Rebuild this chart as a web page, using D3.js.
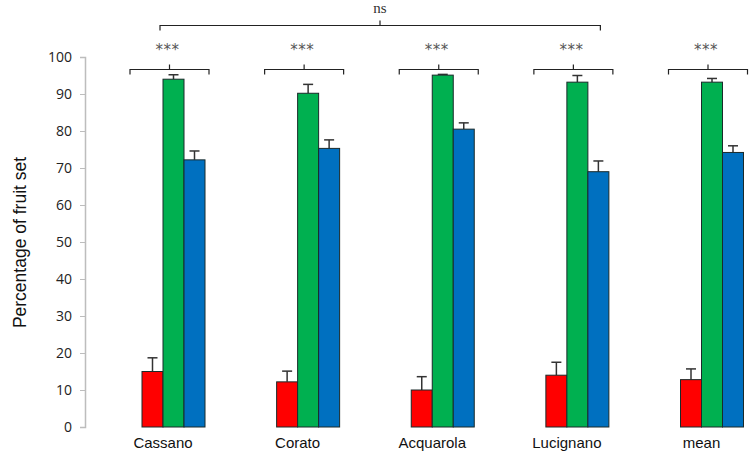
<!DOCTYPE html>
<html>
<head>
<meta charset="utf-8">
<script src="https://cdn.jsdelivr.net/npm/d3@7"></script>
<style>
body { margin: 0; background: #fff; }
</style>
</head>
<body>
<svg></svg>
<script>
var categories = ["Cassano", "Corato", "Acquarola", "Lucignano", "mean"];
var redValues = [15, 12.2, 10, 14, 12.8];
var redErrors = [3.7, 2.9, 3.6, 3.5, 2.9];
var greenValues = [94, 90.2, 95.1, 93.2, 93.2];
var greenErrors = [1.2, 2.4, 0.2, 1.8, 1.0];
var blueValues = [72.2, 75.3, 80.5, 69, 74.2];
var blueErrors = [2.4, 2.3, 1.7, 2.9, 1.8];
var groupStars = ["***", "***", "***", "***", "***"];
var yTicks = [0, 10, 20, 30, 40, 50, 60, 70, 80, 90, 100];

var svgWidth = 750, svgHeight = 451;
var barWidth = 21;

var svg = d3.select("svg")
  .attr("width", svgWidth)
  .attr("height", svgHeight);

var x = d3.scalePoint()
  .domain(categories)
  .range([173.5, 712]);

var y = d3.scaleLinear()
  .domain([0, 100])
  .range([427, 57]);

// y axis
var yAxis = svg.append("g")
  .attr("transform", "translate(85,0)")
  .call(d3.axisLeft(y).tickValues(yTicks).tickSize(5).tickPadding(8));
yAxis.select(".domain").attr("stroke", "#bdbdbd").attr("stroke-width", 1.5);
yAxis.selectAll(".tick line").attr("stroke", "#bdbdbd");
yAxis.selectAll(".tick text")
  .attr("font-family", "'Open Sans', sans-serif")
  .attr("font-size", "14px")
  .attr("fill", "#222");

svg.append("text")
  .attr("transform", "translate(26,242.5) rotate(-90)")
  .attr("text-anchor", "middle")
  .attr("font-family", "'Liberation Sans', Arial, sans-serif")
  .attr("font-size", "17.5px")
  .attr("fill", "#111")
  .text("Percentage of fruit set");

// bars
var series = [
  { values: redValues, errors: redErrors, color: "#ff0000", offset: -1 },
  { values: greenValues, errors: greenErrors, color: "#00b050", offset: 0 },
  { values: blueValues, errors: blueErrors, color: "#0070c0", offset: 1 }
];

series.forEach(function (s) {
  var g = svg.append("g");
  var cx = function (d, i) { return x(categories[i]) + s.offset * barWidth; };

  g.selectAll("line.err")
    .data(s.values)
    .enter()
    .append("line")
    .attr("class", "err")
    .attr("x1", cx)
    .attr("x2", cx)
    .attr("y1", function (d) { return y(d); })
    .attr("y2", function (d, i) { return y(d + s.errors[i]); })
    .attr("stroke", "#333")
    .attr("stroke-width", 1.5);

  g.selectAll("line.cap")
    .data(s.values)
    .enter()
    .append("line")
    .attr("class", "cap")
    .attr("x1", function (d, i) { return cx(d, i) - 5; })
    .attr("x2", function (d, i) { return cx(d, i) + 5; })
    .attr("y1", function (d, i) { return y(d + s.errors[i]); })
    .attr("y2", function (d, i) { return y(d + s.errors[i]); })
    .attr("stroke", "#333")
    .attr("stroke-width", 1.5);

  g.selectAll("rect")
    .data(s.values)
    .enter()
    .append("rect")
    .attr("x", function (d, i) { return cx(d, i) - barWidth / 2; })
    .attr("y", function (d) { return y(d); })
    .attr("width", barWidth)
    .attr("height", function (d) { return y(0) - y(d); })
    .attr("fill", s.color)
    .attr("stroke", "#1a2a2a")
    .attr("stroke-width", 1);
});

// category labels
svg.selectAll("text.cat")
  .data(categories)
  .enter()
  .append("text")
  .attr("class", "cat")
  .attr("x", function (d) { return x(d) - 10.5; })
  .attr("y", 448)
  .attr("text-anchor", "middle")
  .attr("font-family", "'Liberation Sans', Arial, sans-serif")
  .attr("font-size", "15px")
  .attr("fill", "#111")
  .text(function (d) { return d; });

// group brackets
function bracket(x0, x1, yy, xm) {
  return "M" + x0 + "," + (yy + 5) + "L" + x0 + "," + yy +
    "L" + x1 + "," + yy + "L" + x1 + "," + (yy + 5) +
    "M" + xm + "," + yy + "L" + xm + "," + (yy - 5);
}

svg.selectAll("path.br")
  .data(categories)
  .enter()
  .append("path")
  .attr("class", "br")
  .attr("d", function (d) {
    var c = x(d) - 4;
    return bracket(c - 39.5, c + 39.5, 69.5, c);
  })
  .attr("fill", "none")
  .attr("stroke", "#222")
  .attr("stroke-width", 1.2);

svg.selectAll("text.star")
  .data(groupStars)
  .enter()
  .append("text")
  .attr("class", "star")
  .attr("x", function (d, i) { return x(categories[i]) - 6; })
  .attr("y", 55)
  .attr("text-anchor", "middle")
  .attr("font-family", "'DejaVu Sans', sans-serif")
  .attr("font-size", "15px")
  .attr("letter-spacing", "0.5px")
  .attr("fill", "#555")
  .text(function (d) { return d; });

// top bracket across the four sites
var topX0 = x(categories[0]) - 13.5;
var topX1 = x(categories[3]) + 23;
svg.append("path")
  .attr("d", bracket(topX0, topX1, 25.5, 380))
  .attr("fill", "none")
  .attr("stroke", "#222")
  .attr("stroke-width", 1.2);

svg.append("text")
  .attr("x", 380)
  .attr("y", 13)
  .attr("text-anchor", "middle")
  .attr("font-family", "'Liberation Serif', serif")
  .attr("font-size", "15px")
  .attr("fill", "#333")
  .text("ns");
</script>
</body>
</html>
